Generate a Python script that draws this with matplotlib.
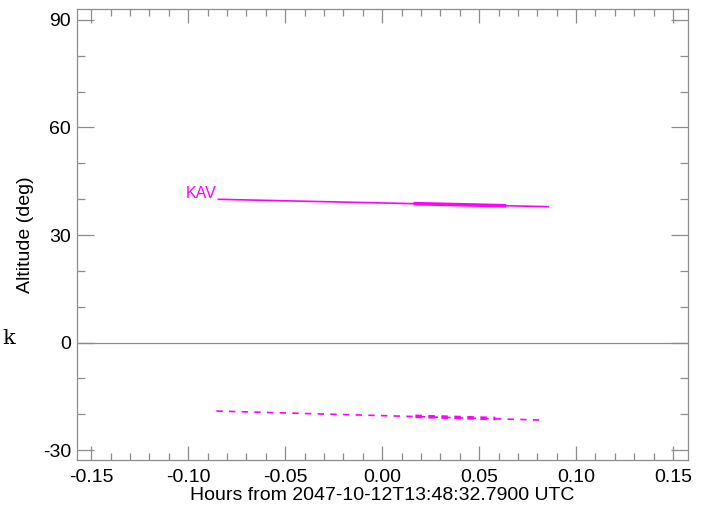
import matplotlib
matplotlib.use("Agg")
import matplotlib.pyplot as plt
from matplotlib.ticker import MultipleLocator

# track endpoints (hours, deg)
track_hours = [-0.0844, 0.0857]
alt_track = [39.95, 37.9]
# segment drawn heavier
heavy_hours = [0.0171, 0.063]
alt_heavy = [38.73, 38.17]
# dashed companion track
dash_hours = [-0.0855, 0.083]
alt_dash = [-19.07, -21.6]
dash_heavy_hours = [0.0171, 0.0584]
alt_dash_heavy = [-20.55, -21.15]

station = "KAV"
xlabel = "Hours from 2047-10-12T13:48:32.7900 UTC"
ylabel = "Altitude (deg)"
x_ticks = [-0.15, -0.10, -0.05, 0.00, 0.05, 0.10, 0.15]
y_ticks = [-30, 0, 30, 60, 90]

MAG = "#ff00ff"
FRAME = "#8c8c8c"

plt.rcParams["font.family"] = ["Liberation Sans", "DejaVu Sans"]
plt.rcParams["axes.unicode_minus"] = False

fig = plt.figure(figsize=(7.06, 5.09), dpi=100)
ax = fig.add_axes([0.1084, 0.0957, 0.9745 - 0.1084, 0.9823 - 0.0957])

ax.plot(track_hours, alt_track, color=MAG, linewidth=1.2)
ax.plot(heavy_hours, alt_heavy, color=MAG, linewidth=2.6)
ax.plot(dash_hours, alt_dash, color=MAG, linewidth=1.2,
        linestyle=(0, (3.8, 3.8)))
ax.plot(dash_heavy_hours, alt_dash_heavy, color=MAG, linewidth=2.6,
        linestyle=(0, (1.8, 1.8)))
ax.text(track_hours[0] - 0.0012, alt_track[0] + 0.4, station, color=MAG,
        fontsize=11.5, ha="right", va="baseline")

ax.axhline(0, color=FRAME, linewidth=0.9)

ax.set_xlim(-0.1576, 0.1577)
ax.set_ylim(-32.8, 93.0)
ax.set_xticks(x_ticks)
ax.set_xticklabels([f"{t:.2f}" for t in x_ticks])
ax.set_yticks(y_ticks)
ax.xaxis.set_minor_locator(MultipleLocator(0.01))
ax.yaxis.set_minor_locator(MultipleLocator(10))
ax.tick_params(which="both", direction="in", top=True, right=True,
               color=FRAME, labelsize=14, labelcolor="black", width=0.9)
ax.tick_params(axis="x", which="major", length=10, pad=6)
ax.tick_params(axis="x", which="minor", length=5)
ax.tick_params(axis="y", which="major", length=12, pad=4)
ax.tick_params(axis="y", which="minor", length=6)
for s in ax.spines.values():
    s.set_color(FRAME)
    s.set_linewidth(0.9)

ax.set_xlabel(xlabel, fontsize=14, labelpad=1)
ax.set_ylabel(ylabel, fontsize=14, labelpad=6)

fig.text(0.004, 0.335, "k", fontsize=15, family="DejaVu Serif",
         ha="left", va="center")

fig.savefig("out.png", dpi=100, facecolor="white")
